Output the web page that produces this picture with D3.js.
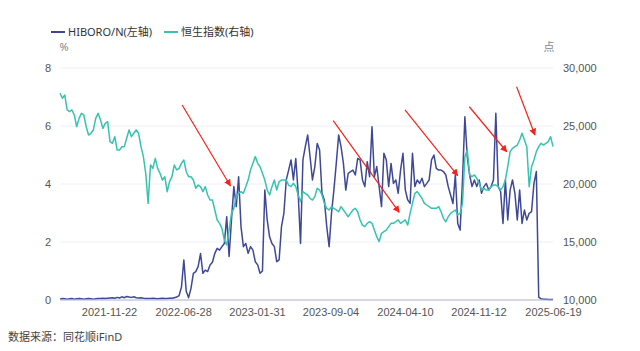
<!DOCTYPE html>
<html>
<head>
<meta charset="utf-8">
<script src="https://cdn.jsdelivr.net/npm/d3@7/dist/d3.min.js"></script>
<style>
	html, body { margin: 0; padding: 0; background: #fff; }
	svg { display: block; font-family: "Noto Sans", "Noto Sans CJK SC", sans-serif; }
	.axis text { font-size: 11px; fill: #555; }
	.axis .domain { display: none; }
</style>
</head>
<body>
<div id="chart"></div>
<script>
'use strict';

// weekly observations, first week and last week
var firstWeek = '2021-07-01';
var lastWeek = '2025-06-19';

// x axis tick labels
var tickDates = ['2021-11-22', '2022-06-28', '2023-01-31', '2023-09-04', '2024-04-10', '2024-11-12', '2025-06-19'];

var leftTicks = [0, 2, 4, 6, 8];
var rightTicks = [10000, 15000, 20000, 25000, 30000];

var seriesNames = ['HIBORO/N(左轴)', '恒生指数(右轴)'];

// HIBOR overnight, %
var hibor = [
	0.03, 0.05, 0.04, 0.03, 0.04, 0.05, 0.03, 0.04, 0.05, 0.04, 0.03, 0.04, 0.05, 0.04, 0.03, 0.04, 0.05, 0.05, 0.06, 0.05, 0.06,
	0.07, 0.08, 0.06, 0.09, 0.07, 0.11, 0.08, 0.12, 0.10, 0.09, 0.11, 0.08, 0.07, 0.08, 0.06, 0.05, 0.05,
	0.05, 0.06, 0.05, 0.04, 0.05, 0.06, 0.05, 0.05, 0.06,
	0.06, 0.08, 0.10, 0.15,
	0.45, 1.38, 0.30, 0.08, 0.40, 0.92, 0.98, 1.15, 1.60, 0.92,
	1.03, 0.98, 1.21, 1.30, 1.61, 1.78, 1.72, 1.84, 1.95, 2.87,
	1.50, 2.76, 3.91, 3.22, 4.25, 2.53, 1.84, 1.95, 1.61, 1.84,
	1.72, 1.32, 1.21, 0.92, 1.00, 3.79, 2.76, 2.18, 1.95, 1.84,
	1.32, 1.38, 2.53, 2.99, 4.14, 4.48, 4.83, 4.14, 4.88, 3.68,
	1.95, 4.83, 5.29, 5.69, 4.94, 4.14, 4.60, 5.40, 5.17, 3.68,
	3.45, 2.53, 1.84, 2.99, 3.79, 4.71, 5.69, 5.29, 4.71, 3.79,
	4.37, 4.43, 4.48, 4.31, 4.88, 4.83, 4.14, 3.91, 4.77, 4.25,
	5.97, 4.25, 4.60, 3.91, 3.22, 5.06, 4.83, 3.91, 4.71, 4.02,
	4.14, 3.68, 4.48, 5.06, 3.79, 3.45, 3.33, 5.06, 3.91, 4.14,
	4.02, 4.20, 3.91, 4.02, 4.14, 4.83, 5.00, 4.54, 4.48, 4.48,
	4.43, 4.31, 3.91, 3.62, 3.33, 4.31, 2.64, 2.41, 4.14, 6.32,
	4.94, 4.31, 3.91, 4.14, 3.91, 4.14, 3.68, 3.91, 4.02, 3.79,
	3.91, 4.14, 6.44, 3.91, 3.74, 2.64, 4.14, 2.76, 3.79, 4.14,
	3.68, 2.76, 3.79, 2.64, 3.10, 2.76, 2.99, 3.05, 4.02, 4.43,
	0.10, 0.04, 0.03, 0.03, 0.02, 0.02, 0.02
];

// Hang Seng Index, points
var hsi = [
	27820, 27390, 27670, 26380, 26240, 26380, 25950, 24940, 25660, 26090,
	25950, 24940, 24220, 24370, 24660, 25660, 26090, 25520, 24800, 25230,
	25370, 23650, 23510, 24080, 22930, 22930, 23220, 23220, 23940, 24660,
	24080, 24370, 24660, 24370, 23220, 22360, 20920, 18330, 21640, 21350,
	22210, 21350, 20920, 20340, 20630, 19340, 20200, 20630, 21640, 21210,
	21350, 21780, 22070, 21060, 20630, 20630, 20340, 19630, 19910, 19770,
	19340, 19770, 19050, 18620, 18620, 17760, 16900, 16610, 16180, 15170,
	14740, 16030, 17470, 17900, 18910, 19200, 19340, 19200, 19770, 20340,
	21210, 21780, 22360, 21780, 21490, 20920, 20340, 19480, 19050, 19770,
	20340, 19480, 20200, 20340, 20340, 20340, 19910, 19770, 20060, 19770,
	19050, 18480, 19340, 19200, 19050, 18760, 18620, 18910, 19630, 19480,
	19050, 18330, 17900, 17760, 18050, 17900, 17760, 17610, 18050, 17760,
	17470, 17180, 17470, 17760, 17900, 17610, 16900, 16460, 16320, 16610,
	16750, 16610, 16030, 15460, 15030, 15750, 15890, 16030, 16320, 16610,
	16610, 16750, 16900, 16610, 16750, 16900, 16460, 17470, 18330, 19200,
	19340, 19050, 18760, 18330, 18190, 18050, 17900, 17900, 17900, 18050,
	17610, 17040, 16750, 17180, 17470, 17610, 17760, 17330, 17470, 18330,
	22360, 22930, 20780, 20630, 20780, 20490, 20060, 19480, 19630, 19480,
	19480, 19770, 19910, 19910, 19770, 19480, 19770, 20340, 21490, 22790,
	23070, 23220, 23360, 23790, 24370, 23790, 23220, 19770, 21490, 22070,
	22790, 23220, 23510, 23360, 23510, 23650, 24080, 23220
];

// red arrows drawn on the chart, in date / index points (right axis)
var arrowFrom = [['2022-06-25', 26810], ['2023-09-12', 25460], ['2024-04-10', 26380], ['2024-10-16', 26660], ['2025-03-04', 28390]];
var arrowTo = [['2022-11-14', 19830], ['2024-03-24', 17560], ['2024-09-12', 20720], ['2025-02-03', 22780], ['2025-04-27', 24220]];

var width = 640;
var height = 351;
var margin = {top: 68, right: 87, bottom: 51, left: 60};
var plotW = width - margin.left - margin.right;
var plotH = height - margin.top - margin.bottom;

var parseDate = d3.timeParse('%Y-%m-%d');
var weeks = d3.timeDay.range(parseDate(firstWeek), d3.timeDay.offset(parseDate(lastWeek), 1), 7);

var colorHibor = '#3e4896';
var colorHsi = '#36c3b0';

var svg = d3.select('#chart').append('svg')
	.attr('width', width)
	.attr('height', height);

var g = svg.append('g')
	.attr('transform', 'translate(' + margin.left + ',' + margin.top + ')');

// SCALES
var xScale = d3.scaleTime()
	.domain([weeks[0], weeks[weeks.length - 1]])
	.range([0, plotW]);

var yLeft = d3.scaleLinear().domain([0, 8]).range([plotH, 0]);
var yRight = d3.scaleLinear().domain([10000, 30000]).range([plotH, 0]);

// GRID
g.append('g')
	.attr('class', 'grid')
	.selectAll('line')
	.data(leftTicks.slice(1))
	.enter().append('line')
		.attr('x1', 0)
		.attr('x2', plotW)
		.attr('y1', function(d){ return yLeft(d); })
		.attr('y2', function(d){ return yLeft(d); })
		.attr('stroke', '#eef0f8')
		.attr('stroke-width', 1);

// AXES
g.append('g')
	.attr('class', 'axis y-left')
	.call(d3.axisLeft(yLeft).tickValues(leftTicks).tickSize(0).tickPadding(9));

g.append('g')
	.attr('class', 'axis y-right')
	.attr('transform', 'translate(' + plotW + ',0)')
	.call(d3.axisRight(yRight).tickValues(rightTicks).tickSize(0).tickPadding(10).tickFormat(d3.format(',')));

g.append('g')
	.attr('class', 'axis x')
	.attr('transform', 'translate(0,' + plotH + ')')
	.call(d3.axisBottom(xScale).tickValues(tickDates.map(parseDate)).tickSize(0).tickPadding(8).tickFormat(d3.timeFormat('%Y-%m-%d')));

// unit labels
g.append('text')
	.attr('x', 4)
	.attr('y', -21)
	.attr('text-anchor', 'middle')
	.attr('dy', '0.35em')
	.style('font-size', '11px')
	.style('fill', '#888')
	.text('%');

g.append('text')
	.attr('x', plotW - 4)
	.attr('y', -21)
	.attr('text-anchor', 'middle')
	.attr('dy', '0.35em')
	.style('font-size', '11px')
	.style('fill', '#888')
	.text('点');

// LINES
var hiborLine = d3.line()
	.x(function(d, i){ return xScale(weeks[i]); })
	.y(function(d){ return yLeft(d); });

var hsiLine = d3.line()
	.x(function(d, i){ return xScale(weeks[i]); })
	.y(function(d){ return yRight(d); });

g.append('path')
	.datum(hibor)
	.attr('d', hiborLine)
	.attr('fill', 'none')
	.attr('stroke', colorHibor)
	.attr('stroke-width', 1.5)
	.attr('stroke-linejoin', 'round');

g.append('path')
	.datum(hsi)
	.attr('d', hsiLine)
	.attr('fill', 'none')
	.attr('stroke', colorHsi)
	.attr('stroke-width', 1.5)
	.attr('stroke-linejoin', 'round');

// baseline
g.append('line')
	.attr('x1', 0)
	.attr('x2', plotW)
	.attr('y1', yLeft(0))
	.attr('y2', yLeft(0))
	.attr('stroke', '#aab0cc')
	.attr('stroke-width', 1);

// ARROWS
svg.append('defs').append('marker')
	.attr('id', 'arrowHead')
	.attr('viewBox', '0 0 10 10')
	.attr('refX', 9)
	.attr('refY', 5)
	.attr('markerWidth', 7)
	.attr('markerHeight', 7)
	.attr('markerUnits', 'userSpaceOnUse')
	.attr('orient', 'auto')
	.append('path')
		.attr('d', 'M0,0 L10,5 L0,10 z')
		.attr('fill', '#f2231b');

g.append('g')
	.attr('class', 'arrows')
	.selectAll('line')
	.data(arrowFrom)
	.enter().append('line')
		.attr('x1', function(d){ return xScale(parseDate(d[0])); })
		.attr('y1', function(d){ return yRight(d[1]); })
		.attr('x2', function(d, i){ return xScale(parseDate(arrowTo[i][0])); })
		.attr('y2', function(d, i){ return yRight(arrowTo[i][1]); })
		.attr('stroke', '#f2231b')
		.attr('stroke-width', 1.2)
		.attr('marker-end', 'url(#arrowHead)');

// LEGEND
var legend = svg.append('g')
	.attr('class', 'legend')
	.attr('transform', 'translate(51,32)');

var legendItem = legend.selectAll('g')
	.data(seriesNames)
	.enter().append('g')
		.attr('transform', function(d, i){ return 'translate(' + (i * 113) + ',0)'; });

legendItem.append('line')
	.attr('x1', 0)
	.attr('x2', 14)
	.attr('y1', 0)
	.attr('y2', 0)
	.attr('stroke-width', 2)
	.attr('stroke', function(d, i){ return i === 0 ? colorHibor : colorHsi; });

legendItem.append('text')
	.attr('x', 17)
	.attr('dy', '0.35em')
	.style('font-size', '11px')
	.style('fill', '#333')
	.text(function(d){ return d; });

// source note
svg.append('text')
	.attr('x', 8)
	.attr('y', 337)
	.attr('dy', '0.35em')
	.style('font-size', '11px')
	.style('fill', '#444')
	.text('数据来源：同花顺iFinD');
</script>
</body>
</html>
